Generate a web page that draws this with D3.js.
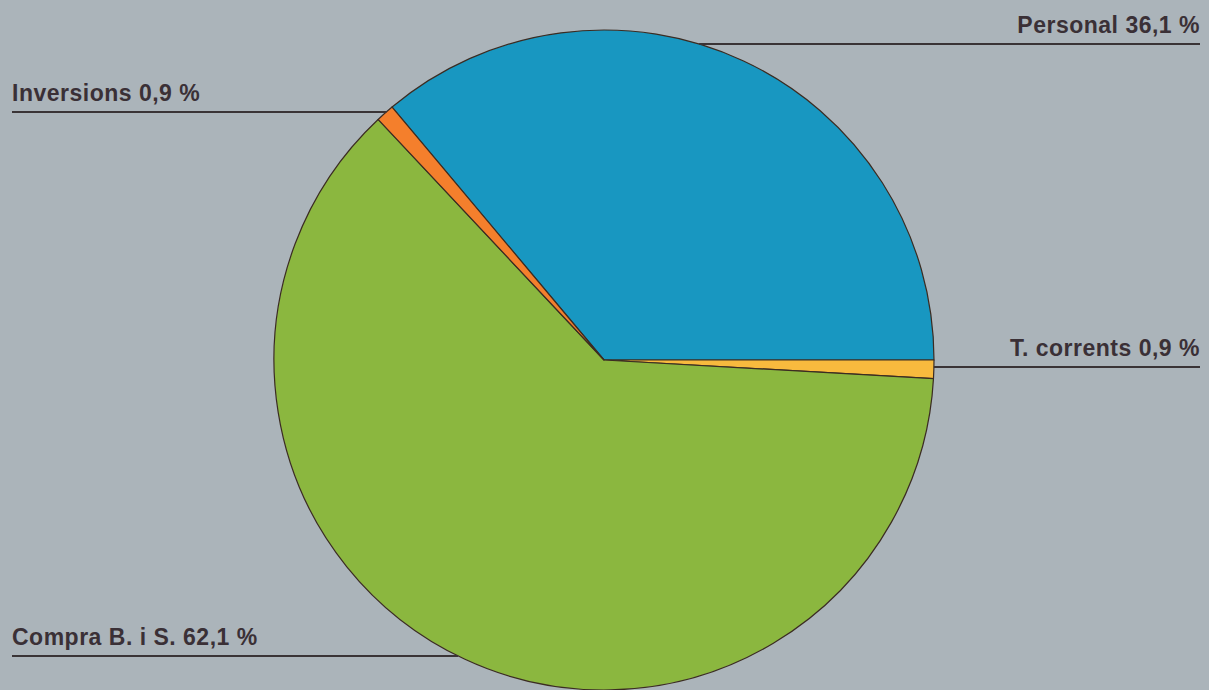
<!DOCTYPE html>
<html>
<head>
<meta charset="utf-8">
<script src="https://cdn.jsdelivr.net/npm/d3@7"></script>
<style>
  html, body { margin: 0; padding: 0; background: #abb4ba; }
  svg { display: block; }
</style>
</head>
<body>
<svg id="chart" width="1209" height="690"></svg>
<script>
// slices in clockwise order, starting at the Personal / Inversions border
const categories = ['Personal', 'T. corrents', 'Compra B. i S.', 'Inversions'];
const values = [36.1, 0.9, 62.1, 0.9];
const valueLabels = ['36,1', '0,9', '62,1', '0,9'];
const colors = ['#1897c1', '#f8ba3e', '#8bb73f', '#f47f2c'];

// label rows: side of the page and the y of the leader line
const labelSide = ['right', 'right', 'left', 'left'];
const labelLineY = [44, 367, 656, 112];

const width = 1209;
const height = 690;
const cx = 604;
const cy = 360;
const radius = 330;

const svg = d3.select('#chart');

svg.append('rect')
  .attr('width', width)
  .attr('height', height)
  .attr('fill', '#abb4ba');

const data = categories.map((name, i) => ({
  name, value: values[i], text: valueLabels[i], color: colors[i],
  side: labelSide[i], lineY: labelLineY[i],
}));

// Personal ends at 3 o'clock
const personalShare = values[0] / d3.sum(values);
const start = Math.PI / 2 - personalShare * 2 * Math.PI;

const pie = d3.pie()
  .value(d => d.value)
  .sort(null)
  .startAngle(start)
  .endAngle(start + 2 * Math.PI);

const arc = d3.arc().innerRadius(0).outerRadius(radius);

const g = svg.append('g').attr('transform', `translate(${cx},${cy})`);

g.selectAll('path')
  .data(pie(data))
  .enter()
  .append('path')
  .attr('d', arc)
  .attr('fill', d => d.data.color)
  .attr('stroke', '#3b2c22')
  .attr('stroke-width', 1.2)
  .attr('stroke-linejoin', 'round');

// leader lines run from the page edge to the circle
const labels = svg.append('g');

data.forEach((d) => {
  const dy = d.lineY - cy;
  const dx = Math.sqrt(Math.max(0, radius * radius - dy * dy));
  const onCircle = d.side === 'right' ? cx + dx : cx - dx;
  const edge = d.side === 'right' ? 1200 : 12;

  labels.append('line')
    .attr('x1', edge)
    .attr('x2', onCircle)
    .attr('y1', d.lineY)
    .attr('y2', d.lineY)
    .attr('stroke', '#3a3436')
    .attr('stroke-width', 2);

  labels.append('text')
    .attr('x', edge)
    .attr('y', d.lineY - 11)
    .attr('text-anchor', d.side === 'right' ? 'end' : 'start')
    .attr('font-family', 'Liberation Sans, Arial, sans-serif')
    .attr('font-weight', 'bold')
    .attr('font-size', 23)
    .attr('letter-spacing', 0.5)
    .attr('fill', '#3a3036')
    .text(`${d.name} ${d.text} %`);
});
</script>
</body>
</html>
